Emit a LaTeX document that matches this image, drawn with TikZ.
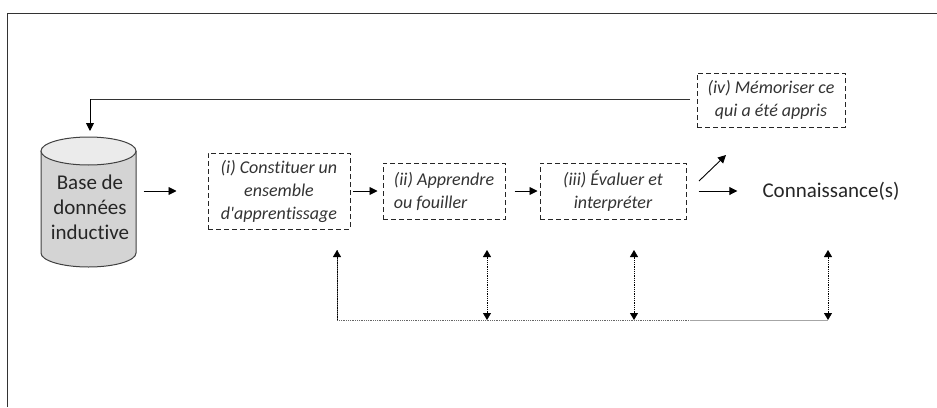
\documentclass[tikz,border=0pt]{standalone}
\usepackage{fontspec}
\setmainfont{Carlito}[Ligatures={NoCommon,TeXOff}]
\usetikzlibrary{arrows.meta}
\tikzset{
  flow/.style={color=black,line width=0.9pt,-{Triangle[length=8pt,width=8pt]}},
  backline/.style={color=black!60,densely dotted,thick},
  backarrow/.style={color=black,densely dotted,line width=0.8pt,{Triangle[length=7pt,width=8pt]}-{Triangle[length=7pt,width=8pt]}},
  etape/.style={draw,dash pattern=on 5pt off 3pt,line width=1pt,color=black!85,text=black!80,font=\fontsize{18}{23}\selectfont\itshape,align=center,inner sep=0pt},
}
\begin{document}
\begin{tikzpicture}[x=1pt,y=-1pt]
\useasboundingbox (0,0) rectangle (937,407);
\draw[color=black!80,line width=1pt] (7.5,407) -- (7.5,13.5) -- (937,13.5);

\draw[color=black!75,line width=1pt,fill=black!17] (41,151) -- (41,253) arc[start angle=180,end angle=360,x radius=47.5pt,y radius=14pt] -- (136,151);
\draw[color=black!75,line width=1pt,fill=black!8] (88.5,151) circle[x radius=47.5pt,y radius=14pt];
\node (base) at (90,207) [minimum width=95pt,inner sep=0pt,align=center,font=\fontsize{21}{25}\selectfont,text=black!85]{Base de\\données\\inductive};

\node (i) at (279,191) [etape,minimum width=142pt,minimum height=76pt]{(i) Constituer un\\ensemble\\d'apprentissage};
\node (ii) at (444,191) [etape,align=left,minimum width=122pt,minimum height=56pt]{(ii) Apprendre\\ou fouiller};
\node (iii) at (613,191) [etape,minimum width=146pt,minimum height=56pt]{(iii) Évaluer et\\interpréter};
\node (iv) at (771,100) [etape,minimum width=148pt,minimum height=54pt]{(iv) Mémoriser ce\\qui a été appris};
\node (conn) at (831,191) [font=\fontsize{21}{24}\selectfont,text=black!85,inner sep=0pt]{Connaissance(s)};

\draw[flow,shorten <=6pt,shorten >=31pt] (base.east |- i) -- (i);
\draw[flow,shorten <=2pt,shorten >=5pt] (i) -- (ii);
\draw[flow,shorten <=9pt,shorten >=2pt] (ii) -- (iii);
\draw[flow,shorten <=12pt,shorten >=25pt] (iii) -- (conn);

\coordinate (mema) at (699,181);
\coordinate (memb) at (726,155);
\draw[flow] (mema) -- (memb);

\coordinate (topa) at (690,99);
\coordinate (topb) at (90,99);
\coordinate (topc) at (90,131);
\draw[color=black!80,line width=1pt] (topa) -- (topb);
\draw[flow] (topb) -- (topc);

\coordinate (fbi) at (337,250);
\coordinate (fbii) at (487,250);
\coordinate (fbiii) at (634,250);
\coordinate (fbiv) at (828,250);
\coordinate (lowi) at (337,320);
\coordinate (lowii) at (487,320);
\coordinate (lowiii) at (634,320);
\coordinate (lowiv) at (828,320);
\coordinate (lowmid) at (690,320);

\draw[backline] (fbi) -- (lowi) -- (lowmid);
\draw[color=black!35,thick] (lowmid) -- (lowiv);
\draw[color=black,densely dotted,line width=0.8pt,-{Triangle[length=7pt,width=8pt]}] (lowi) -- (fbi);
\draw[backarrow] (lowii) -- (fbii);
\draw[backarrow] (lowiii) -- (fbiii);
\draw[backarrow] (lowiv) -- (fbiv);
\end{tikzpicture}
\end{document}
